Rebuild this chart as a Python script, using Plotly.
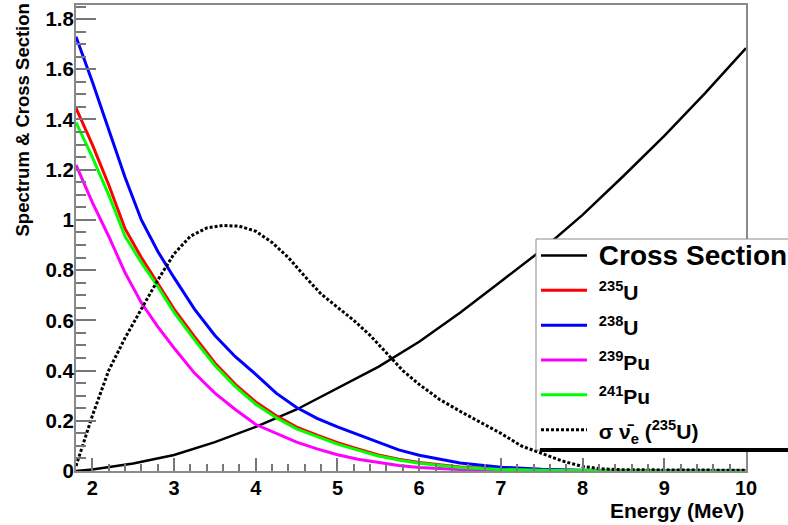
import plotly.graph_objects as go

# ---------------- data ----------------
energy = [1.8, 2.0, 2.2, 2.4, 2.6, 2.8, 3.0, 3.25, 3.5, 3.75, 4.0, 4.25, 4.5, 4.75,
          5.0, 5.25, 5.5, 5.75, 6.0, 6.5, 7.0, 7.5, 8.0, 8.5, 9.0, 9.5, 10.0]

u235 = [1.445, 1.30, 1.14, 0.965, 0.85, 0.75, 0.645, 0.535, 0.43, 0.345, 0.275, 0.22, 0.175, 0.143,
        0.113, 0.088, 0.064, 0.047, 0.034, 0.016, 0.007, 0.003, 0.001, 0.0005, 0.0002, 0.0001, 0.0]
u238 = [1.73, 1.55, 1.36, 1.17, 1.0, 0.875, 0.77, 0.645, 0.54, 0.455, 0.385, 0.31, 0.253, 0.21,
        0.176, 0.145, 0.112, 0.084, 0.063, 0.032, 0.015, 0.007, 0.003, 0.001, 0.0005, 0.0002, 0.0001]
pu239 = [1.219, 1.07, 0.935, 0.79, 0.67, 0.575, 0.49, 0.39, 0.31, 0.245, 0.185, 0.15, 0.115, 0.088,
         0.065, 0.047, 0.033, 0.022, 0.014, 0.006, 0.002, 0.001, 0.0005, 0.0002, 0.0001, 0.0, 0.0]
pu241 = [1.388, 1.25, 1.10, 0.935, 0.83, 0.735, 0.632, 0.522, 0.42, 0.336, 0.266, 0.212, 0.168, 0.136,
         0.107, 0.083, 0.06, 0.044, 0.031, 0.014, 0.006, 0.003, 0.001, 0.0005, 0.0002, 0.0001, 0.0]

xsec_energy = [1.8, 2.0, 2.5, 3.0, 3.5, 4.0, 4.5, 5.0, 5.5, 6.0, 6.5, 7.0, 7.5, 8.0, 8.5, 9.0, 9.5, 10.0]
cross_section = [0.0, 0.006, 0.03, 0.064, 0.115, 0.176, 0.245, 0.33, 0.415, 0.515, 0.63, 0.755,
                 0.88, 1.02, 1.175, 1.335, 1.505, 1.684]

obs_energy = [1.8, 1.9, 2.0, 2.2, 2.4, 2.6, 2.8, 3.0, 3.2, 3.4, 3.6, 3.8, 4.0, 4.2, 4.4, 4.6, 4.8,
              5.0, 5.2, 5.4, 5.6, 5.8, 6.0, 6.25, 6.5, 6.75, 7.0, 7.25, 7.5, 7.75, 8.0, 8.25,
              8.5, 9.0, 9.5, 10.0]
obs_u235 = [0.02, 0.12, 0.22, 0.40, 0.53, 0.645, 0.76, 0.865, 0.935, 0.968, 0.978, 0.975, 0.955,
            0.91, 0.85, 0.775, 0.705, 0.652, 0.6, 0.54, 0.47, 0.4, 0.345, 0.285, 0.238, 0.195,
            0.15, 0.1, 0.07, 0.04, 0.018, 0.008, 0.005, 0.004, 0.003, 0.003]

names = {
    "xsec": '\u00a0<span style="font-size:28px">Cross Section</span>',
    "u235": '\u00a0<span style="font-size:21px"><sup>235</sup>U</span>',
    "u238": '\u00a0<span style="font-size:21px"><sup>238</sup>U</span>',
    "pu239": '\u00a0<span style="font-size:21px"><sup>239</sup>Pu</span>',
    "pu241": '\u00a0<span style="font-size:21px"><sup>241</sup>Pu</span>',
    "obs": '\u00a0<span style="font-size:21px">\u03c3 \u03bd\u0304<sub>e</sub> (<sup>235</sup>U)</span>',
}

FONT = "Liberation Sans"

# plot-area geometry in pixels (figure 788x525)
L, R, T, B = 76, 746, 5, 471
PW, PH = R - L, B - T


def px_x(p):
    return (p - L) / PW


def px_y(p):
    return (B - p) / PH


fig = go.Figure()
fig.add_trace(go.Scatter(x=xsec_energy, y=cross_section, mode="lines", name=names["xsec"],
                         line=dict(color="black", width=2.5)))
fig.add_trace(go.Scatter(x=energy, y=u235, mode="lines", name=names["u235"],
                         line=dict(color="#ff0000", width=3)))
fig.add_trace(go.Scatter(x=energy, y=u238, mode="lines", name=names["u238"],
                         line=dict(color="#0000ff", width=3)))
fig.add_trace(go.Scatter(x=energy, y=pu239, mode="lines", name=names["pu239"],
                         line=dict(color="#ff00ff", width=3)))
fig.add_trace(go.Scatter(x=energy, y=pu241, mode="lines", name=names["pu241"],
                         line=dict(color="#00ff00", width=3)))
fig.add_trace(go.Scatter(x=obs_energy, y=obs_u235, mode="lines", name=names["obs"],
                         line=dict(color="black", width=3, dash="3px,2px")))

axis_common = dict(
    showline=True, mirror=True, linecolor="#8a8a8a", linewidth=2,
    showgrid=False, zeroline=False, ticks="inside", tickcolor="#777", tickwidth=1.5,
)

fig.update_xaxes(range=[1.8, 10], tick0=2, dtick=1, ticklen=13, ticklabelstandoff=-2,
                 tickfont=dict(family=FONT, size=20, color="black", weight="bold"),
                 minor=dict(dtick=0.2, tick0=2, ticklen=7, ticks="inside", tickcolor="#777", tickwidth=1.5),
                 **axis_common)
fig.update_yaxes(range=[0, 1.856], tick0=0, dtick=0.2, ticklen=20, ticklabelstandoff=-4,
                 tickfont=dict(family=FONT, size=20.5, color="black", weight="bold"),
                 minor=dict(dtick=0.05, tick0=0, ticklen=10, ticks="inside", tickcolor="#777", tickwidth=1.5),
                 **axis_common)

fig.update_layout(
    width=788, height=525,
    margin=dict(l=L, r=788 - R, t=T, b=525 - B, autoexpand=False),
    paper_bgcolor="white", plot_bgcolor="white",
    font=dict(family=FONT, color="black"),
    showlegend=True,
    legend=dict(x=px_x(536), y=px_y(233), xanchor="left", yanchor="top",
                bgcolor="rgba(0,0,0,0)", borderwidth=0,
                font=dict(family=FONT, size=24.5, color="black", weight="bold"),
                itemwidth=46, tracegroupgap=0, traceorder="normal"),
    annotations=[
        dict(text="Energy (MeV)", xref="paper", yref="paper", x=1, y=0, xanchor="right",
             yanchor="middle", yshift=-39, showarrow=False,
             font=dict(family=FONT, size=21, color="black", weight="bold")),
        dict(text="Spectrum & Cross Section", xref="paper", yref="paper", x=0, y=1,
             xanchor="center", yanchor="top", xshift=-54, yshift=3, textangle=-90, showarrow=False,
             font=dict(family=FONT, size=18.5, color="black", weight="bold")),
    ],
    shapes=[
        dict(type="rect", xref="paper", yref="paper", layer="above",
             x0=px_x(536), x1=px_x(800), y0=px_y(450), y1=px_y(239),
             fillcolor="white", line=dict(color="#8a8a8a", width=1)),
        dict(type="line", xref="paper", yref="paper", layer="above",
             x0=px_x(540), x1=px_x(800), y0=px_y(450), y1=px_y(450),
             line=dict(color="black", width=4)),
    ],
)

fig.write_html("out.html", config={"displayModeBar": False},
               post_script="document.body.style.margin='0px';")
